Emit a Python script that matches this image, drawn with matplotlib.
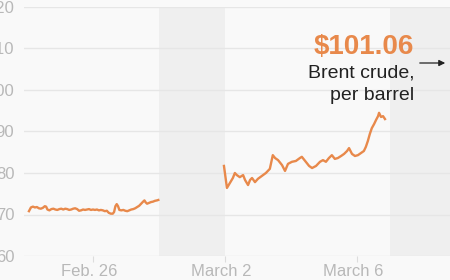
import matplotlib.pyplot as plt
from matplotlib.transforms import ScaledTranslation

plt.rcParams['font.family'] = ['Liberation Sans', 'DejaVu Sans']

# days counted from Feb. 24 00:00, price in $ per barrel
days_1 = [0.06, 0.12, 0.18, 0.24, 0.30, 0.36, 0.42, 0.48, 0.54, 0.58,
          0.62, 0.68, 0.74, 0.80, 0.86, 0.92, 0.98, 1.04, 1.10, 1.16,
          1.22, 1.28, 1.34, 1.40, 1.46, 1.52, 1.58, 1.64, 1.70, 1.76,
          1.82, 1.88, 1.94, 2.00, 2.06, 2.12, 2.18, 2.24, 2.30, 2.36,
          2.42, 2.48, 2.54, 2.60, 2.64, 2.68, 2.72, 2.76, 2.80, 2.86,
          2.92, 2.98, 3.04, 3.10, 3.16, 3.22, 3.28, 3.34, 3.40, 3.46,
          3.52, 3.56, 3.60, 3.64, 3.70, 3.76, 3.82, 3.88, 3.94, 3.98]
price_1 = [70.8, 71.7, 71.9, 71.7, 71.8, 71.5, 71.4, 71.6, 72.0, 71.9,
           71.2, 71.0, 71.3, 71.4, 71.2, 71.1, 71.3, 71.4, 71.2, 71.4,
           71.3, 71.1, 71.2, 71.4, 71.5, 71.3, 70.9, 71.0, 71.2, 71.1,
           71.2, 71.3, 71.1, 71.2, 71.1, 71.2, 71.0, 71.1, 71.0, 70.8,
           70.9, 70.4, 70.2, 70.2, 70.6, 72.0, 72.5, 72.0, 71.1, 71.0,
           71.1, 70.9, 70.8, 71.0, 71.2, 71.3, 71.5, 71.8, 72.1, 72.6,
           73.1, 73.4, 72.9, 72.6, 72.8, 73.0, 73.1, 73.3, 73.4, 73.5]

days_2 = [5.97, 6.06, 6.15, 6.24, 6.30, 6.36, 6.45, 6.55, 6.61, 6.70,
          6.76, 6.82, 6.91, 7.00, 7.12, 7.24, 7.36, 7.45, 7.52, 7.61,
          7.73, 7.82, 7.91, 8.03, 8.15, 8.27, 8.33, 8.45, 8.55, 8.64,
          8.76, 8.88, 8.97, 9.06, 9.15, 9.24, 9.33, 9.42, 9.52, 9.61,
          9.70, 9.76, 9.85, 9.94, 10.03, 10.12, 10.21, 10.27, 10.33, 10.39,
          10.45, 10.52, 10.58, 10.64, 10.67, 10.73, 10.79, 10.85]
price_2 = [81.7, 76.4, 77.6, 78.8, 80.0, 79.5, 79.0, 79.5, 78.3, 77.1,
           78.3, 78.8, 77.8, 78.6, 79.3, 80.0, 81.0, 84.3, 83.6, 83.1,
           81.9, 80.5, 82.2, 82.7, 82.9, 83.6, 83.9, 82.7, 81.7, 81.2,
           81.7, 82.7, 83.1, 82.7, 83.6, 84.3, 83.4, 83.6, 84.1, 84.6,
           85.3, 86.0, 84.6, 84.1, 84.3, 84.8, 85.3, 86.3, 87.7, 89.4,
           90.8, 91.8, 92.8, 93.7, 94.5, 93.5, 93.7, 93.0]

weekends = [(4, 6), (11, 13)]
tick_days = [2, 6, 10]
tick_labels = ['Feb. 26', 'March 2', 'March 6']
y_ticks = [60, 70, 80, 90, 100, 110, 120]

orange = '#e8894b'
bg = '#f9f9f9'

fig = plt.figure(figsize=(4.5, 2.8), dpi=100, facecolor=bg)
ax = fig.add_axes([24 / 450, 24 / 280, 1 - 24 / 450, 249 / 280])
ax.set_facecolor(bg)

for start, end in weekends:
    ax.axvspan(start, end, color='#efefef', lw=0, zorder=0)

ax.plot(days_1, price_1, color=orange, lw=1.7, zorder=3)
ax.plot(days_2, price_2, color=orange, lw=1.7, zorder=3)

ax.set_xlim(-0.09, 12.82)
ax.set_ylim(60, 120)
ax.set_yticks(y_ticks)
ax.set_yticklabels([str(v) for v in y_ticks])
ax.set_xticks(tick_days)
ax.set_xticklabels(tick_labels)
ax.grid(axis='y', color='#e6e6e6', lw=1)
ax.set_axisbelow(True)
for s in ax.spines.values():
    s.set_visible(False)
ax.tick_params(axis='y', length=0, pad=7, labelsize=12, labelcolor='#b8b8b8')
ax.tick_params(axis='x', length=4, width=0.8, color='#dddddd', pad=2,
               labelsize=12, labelcolor='#b8b8b8')
shift = ScaledTranslation(-4 / 100, 0, fig.dpi_scale_trans)
for lbl in ax.get_xticklabels():
    lbl.set_transform(lbl.get_transform() + shift)

fig.text(414 / 450, 1 - 47 / 280, '$101.06', ha='right', va='center',
         fontsize=20, fontweight='bold', color=orange)
fig.text(415 / 450, 1 - 73 / 280, 'Brent crude,', ha='right', va='center',
         fontsize=14, color='#222222')
fig.text(414 / 450, 1 - 96 / 280, 'per barrel', ha='right', va='center',
         fontsize=14, color='#222222')
ax.annotate('', xy=(448 / 450, 1 - 63 / 280), xytext=(417 / 450, 1 - 63 / 280),
            xycoords='figure fraction', textcoords='figure fraction',
            arrowprops=dict(arrowstyle='-|>', color='#222222', lw=0.9,
                            mutation_scale=9))

fig.savefig('out.png', dpi=100, facecolor=bg)
